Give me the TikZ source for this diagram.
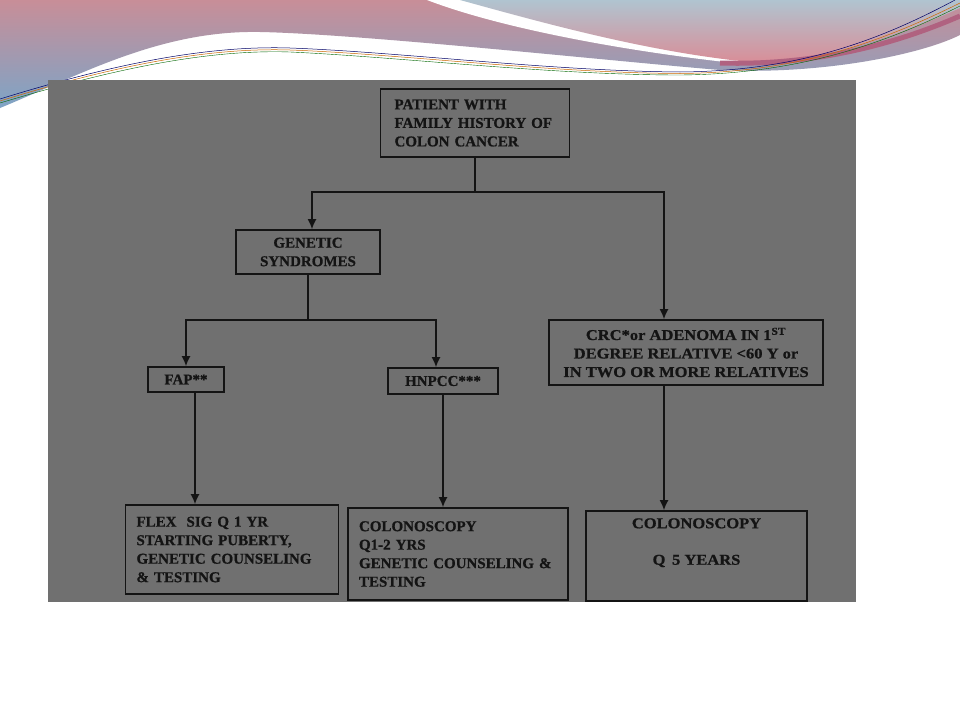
\documentclass[tikz,border=0pt]{standalone}
\usepackage{fontspec}
\setmainfont{Liberation Serif}
\newfontface\chartfont{Liberation Serif Bold}[FakeBold=0.8]
\newfontface\widefont{Liberation Serif Bold}[FakeBold=0.8, FakeStretch=1.1]
\usetikzlibrary{arrows.meta}
\definecolor{pinktop}{RGB}{200,142,152}
\definecolor{bluelow}{RGB}{126,164,198}
\definecolor{skytop}{RGB}{176,196,208}
\definecolor{rosebot}{RGB}{218,140,150}
\definecolor{darkrose}{RGB}{176,98,128}
\definecolor{panelgray}{RGB}{112,112,112}
\definecolor{ink}{RGB}{20,20,20}
\tikzset{
	box/.style={draw=ink, line width=1.6pt, inner sep=0pt, text=ink,
		font=\fontsize{15pt}{18.5pt}\chartfont},
	widebox/.style={box, font=\fontsize{15pt}{18.5pt}\widefont},
	link/.style={draw=ink, line width=1.6pt},
	tip/.style={-{Latex[length=10pt, width=9pt]}}
}

\begin{document}
\begin{tikzpicture}[
	x=1pt, y=-1pt]
	\useasboundingbox (0,0) rectangle (960,720);
	\fill[white] (0,0) rectangle (960,720);
	% swooshes at the top
	\shade[top color=pinktop, bottom color=bluelow] (0,0) -- (960,0) -- (960,35)
		.. controls (920,55) and (820,75) .. (720,70)
		.. controls (600,60) and (360,34) .. (260,32)
		.. controls (160,30) and (80,75) .. (0,108) -- cycle;
	\fill[white] (427,0) .. controls (500,28) and (620,50) .. (725,62) -- (740,61) -- (740,0) -- cycle;
	\shade[top color=skytop, bottom color=rosebot] (460,0)
		.. controls (540,22) and (640,50) .. (740,61)
		.. controls (820,64) and (900,35) .. (960,8) -- (960,0) -- cycle;
	\draw[darkrose, line width=5pt] (720,63) .. controls (820,66) and (900,42) .. (960,16);
	\draw[blue!40!black, line width=0.5pt] (0,99) .. controls (100,68) and (200,45) .. (290,48)
		.. controls (400,52) and (550,71) .. (680,72) .. controls (800,71) and (880,40) .. (955,0);
	\draw[orange!80!black, line width=0.5pt] (0,101) .. controls (100,70) and (200,47) .. (290,50)
		.. controls (400,54) and (550,73) .. (680,73.5) .. controls (800,72.5) and (883,41) .. (960,3);
	\draw[green!40!black, line width=0.4pt] (0,103) .. controls (100,73) and (200,49) .. (290,52)
		.. controls (400,57) and (550,75) .. (680,75) .. controls (800,74) and (886,43) .. (960,6);
	% scanned chart
	\fill[panelgray] (48,80) rectangle (856,602);
	\node[box, minimum width=189pt, minimum height=68pt, text width=161pt, align=left] (P) at (475,123)
		{PATIENT WITH\\FAMILY HISTORY OF\\COLON CANCER};
	\node[box, minimum width=144pt, minimum height=44pt, align=center] (G) at (308,252)
		{GENETIC\\SYNDROMES};
	\node[widebox, minimum width=274pt, minimum height=65pt, align=center] (C) at (686,352.5)
		{CRC*or ADENOMA IN 1\textsuperscript{ST}\\DEGREE RELATIVE <60 Y or\\IN TWO OR MORE RELATIVES};
	\node[box, minimum width=76pt, minimum height=25pt] (F) at (186,379.5) {FAP**};
	\node[box, minimum width=110pt, minimum height=26pt] (H) at (443,381) {HNPCC***};
	\node[box, minimum width=213pt, minimum height=89pt, text width=191pt, align=left] (FS) at (232,549.5)
		{FLEX\ \ SIG Q 1 YR\\STARTING PUBERTY,\\GENETIC COUNSELING\\\& TESTING};
	\node[box, minimum width=220pt, minimum height=92pt, text width=198pt, align=left] (CH) at (458,554)
		{COLONOSCOPY\\Q1-2 YRS\\GENETIC COUNSELING \&\\TESTING};
	\node[widebox, minimum width=221pt, minimum height=90pt, align=center, text depth=29pt] (CC) at (696.5,556)
		{COLONOSCOPY\\[18pt]Q\ \,5 YEARS};
	\draw[link] (P.south) -- ++(0,34) coordinate (jP);
	\draw[link, tip] (jP) -| ([xshift=4pt]G.north);
	\draw[link, tip] (jP) -| ([xshift=-22pt]C.north);
	\draw[link] (G.south) -- ++(0,45) coordinate (jG);
	\draw[link, tip] (jG) -| (F.north);
	\draw[link, tip] (jG) -| ([xshift=-7pt]H.north);
	\draw[link, tip] ([xshift=9pt]F.south) -- ([xshift=9pt]F.south |- FS.north);
	\draw[link, tip] (H.south) -- (H.south |- CH.north);
	\draw[link, tip] ([xshift=-22pt]C.south) -- ([xshift=-22pt]C.south |- CC.north);
\end{tikzpicture}
\end{document}
